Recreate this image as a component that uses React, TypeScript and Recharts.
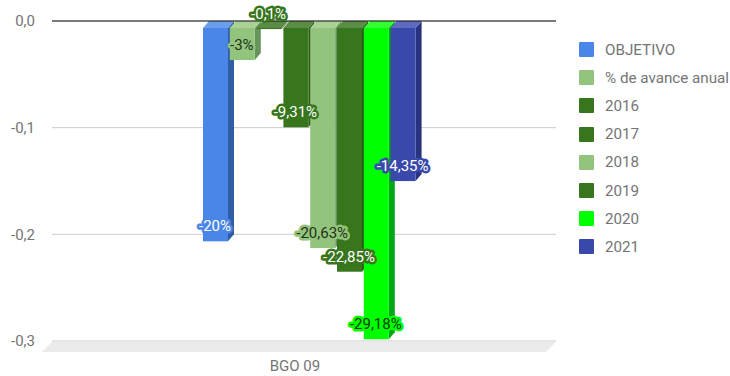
import React from "react";
import { BarChart, Bar, XAxis, YAxis, CartesianGrid, ReferenceLine, ReferenceArea, Legend, LabelList } from "recharts";

const categories = ["BGO 09"];
const seriesNames = ["OBJETIVO", "% de avance anual", "2016", "2017", "2018", "2019", "2020", "2021"];
const seriesKeys = ["s0", "s1", "s2", "s3", "s4", "s5", "s6", "s7"];
const seriesValues = [-0.2, -0.03, -0.001, -0.0931, -0.2063, -0.2285, -0.2918, -0.1435];
const seriesLabels = ["-20%", "-3%", "-0,1%", "-9,31%", "-20,63%", "-22,85%", "-29,18%", "-14,35%"];
const frontColors = ["#4a86e8", "#93c47d", "#38761d", "#38761d", "#93c47d", "#38761d", "#00ff00", "#3949ab"];
const sideColors = ["#2f5ea6", "#66945a", "#2a5a17", "#2a5a17", "#66945a", "#2a5a17", "#00a815", "#283380"];
const topColors = ["#6d9eeb", "#a9d195", "#5b8c45", "#5b8c45", "#a9d195", "#5b8c45", "#33ff33", "#5c6bc0"];
const legendColors = ["#4a86e8", "#93c47d", "#38761d", "#38761d", "#93c47d", "#38761d", "#00ff00", "#3949ab"];
const labelInk = ["#ffffff", "#1f3318", "#ffffff", "#ffffff", "#1f3318", "#ffffff", "#063b06", "#ffffff"];
const yTicks = [0, -0.1, -0.2, -0.3];

const row: Record<string, string | number> = { name: categories[0] };
seriesKeys.forEach((k, i) => { row[k] = seriesValues[i]; });
const data = [row];

const FONT = "Roboto, sans-serif";
const SHIFT_X = 5;
const DEPTH_X = 6;
const DEPTH_Y = 7;

function Bar3D(props: any, i: number) {
  const { x, y, width, height } = props;
  const top = Math.min(y, y + height);
  const bottom = Math.max(y, y + height);
  const fx = x + SHIFT_X;
  const ft = top + DEPTH_Y;
  const fb = bottom + DEPTH_Y;
  const fr = fx + width;
  return (
    <g>
      <polygon points={`${fr},${ft} ${fr + DEPTH_X},${ft - DEPTH_Y} ${fr + DEPTH_X},${fb - DEPTH_Y} ${fr},${fb}`} fill={sideColors[i]} />
      <polygon points={`${fx},${ft} ${fx + DEPTH_X},${ft - DEPTH_Y} ${fr + DEPTH_X},${ft - DEPTH_Y} ${fr},${ft}`} fill={topColors[i]} />
      <rect x={fx} y={ft} width={width} height={fb - ft} fill={frontColors[i]} />
    </g>
  );
}

function DataLabel(props: any, i: number) {
  const { x, y, width, height } = props;
  const bottom = Math.max(y, y + height);
  return (
    <text
      x={x + SHIFT_X - 0.5 + width / 2}
      y={bottom + DEPTH_Y - 14}
      textAnchor="middle"
      dominantBaseline="middle"
      fontFamily={FONT}
      fontSize={15}
      fill={labelInk[i]}
      stroke={frontColors[i]}
      strokeWidth={5}
      strokeLinejoin="round"
      style={{ paintOrder: "stroke" }}
    >
      {seriesLabels[i]}
    </text>
  );
}

function Floor(props: any) {
  const { x, y, width, height } = props;
  const b = y + height + 1;
  return <polygon points={`${x},${b} ${x + width},${b} ${x + width - 10},${b + 10} ${x - 10},${b + 10}`} fill="#ebebeb" />;
}

function LegendBox({ payload }: any) {
  return (
    <div style={{ fontFamily: FONT, fontSize: 15.2, color: "#757575" }}>
      {(payload || []).map((p: any, i: number) => (
        <div key={i} style={{ display: "flex", alignItems: "center", height: 28.2, whiteSpace: "nowrap" }}>
          <span style={{ width: 15, height: 15, background: p.color, borderRadius: 1, display: "inline-block", marginRight: 11 }} />
          {p.value}
        </div>
      ))}
    </div>
  );
}

export default function App() {
  return (
    <div style={{ position: "absolute", left: 0, top: 0, width: 730, height: 376 }}>
      <BarChart width={730} height={376} data={data} margin={{ top: 21, right: 174, bottom: 0, left: 0 }} barSize={25} barGap={1.8} style={{ background: "#fff" }}>
        <CartesianGrid horizontal vertical={false} stroke="#cccccc" strokeWidth={1} />
        <XAxis dataKey="name" axisLine={false} tickLine={false} dx={-9} height={35} tick={{ fontFamily: FONT, fontSize: 15, fill: "#757575" }} tickMargin={13} />
        <YAxis domain={[-0.3, 0]} ticks={yTicks} width={52} axisLine={false} tickLine={false} tickMargin={11} tickFormatter={(v: number) => v.toFixed(1).replace(".", ",")} tick={{ fontFamily: FONT, fontSize: 15, fill: "#757575" }} />
        <ReferenceArea y1={-0.3} y2={-0.3} shape={Floor} ifOverflow="visible" />
        <ReferenceLine y={0} stroke="#111111" strokeWidth={1} />
        {seriesKeys.map((k, i) => (
          <Bar key={k} dataKey={k} name={seriesNames[i]} fill={legendColors[i]} isAnimationActive={false} shape={(p: any) => Bar3D(p, i)}>
            <LabelList dataKey={k} content={(p: any) => DataLabel(p, i)} />
          </Bar>
        ))}
        <Legend layout="vertical" align="center" verticalAlign="middle" itemSorter={null} content={<LegendBox />} wrapperStyle={{ left: 579, top: 35.5, width: 151, height: 226 }} />
      </BarChart>
    </div>
  );
}
